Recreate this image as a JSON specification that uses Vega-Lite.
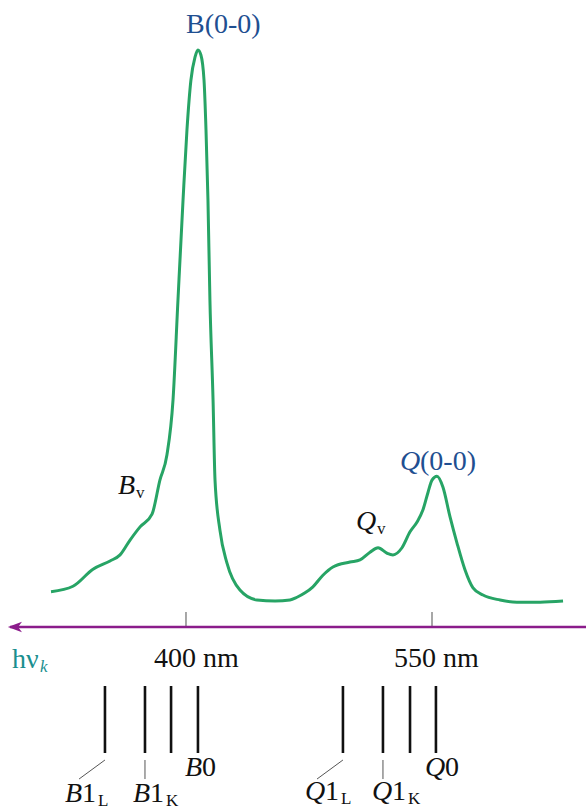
{
  "$schema": "https://vega.github.io/schema/vega-lite/v6.json",
  "width": 586,
  "height": 812,
  "autosize": {"type": "none"},
  "padding": 0,
  "background": "white",
  "config": {"view": {"stroke": null}},
  "datasets": {
    "curve": [
      {"nm": 317.7, "a": 0.015}, {"nm": 331.1, "a": 0.025}, {"nm": 343.3, "a": 0.056}, {"nm": 353.7, "a": 0.071},
      {"nm": 359.8, "a": 0.082}, {"nm": 365.9, "a": 0.109}, {"nm": 372.0, "a": 0.133}, {"nm": 379.3, "a": 0.156},
      {"nm": 384.1, "a": 0.218}, {"nm": 388.4, "a": 0.264}, {"nm": 392.1, "a": 0.364}, {"nm": 395.1, "a": 0.545},
      {"nm": 398.2, "a": 0.727}, {"nm": 400.6, "a": 0.855}, {"nm": 403.0, "a": 0.945}, {"nm": 405.5, "a": 0.987},
      {"nm": 407.3, "a": 1.0}, {"nm": 409.1, "a": 0.991}, {"nm": 411.0, "a": 0.945}, {"nm": 412.2, "a": 0.855},
      {"nm": 413.4, "a": 0.727}, {"nm": 414.6, "a": 0.545}, {"nm": 416.5, "a": 0.364}, {"nm": 417.7, "a": 0.218},
      {"nm": 420.7, "a": 0.127}, {"nm": 425.0, "a": 0.067}, {"nm": 432.9, "a": 0.018}, {"nm": 443.3, "a": 0.0},
      {"nm": 454.3, "a": -0.002}, {"nm": 463.4, "a": 0.0}, {"nm": 467.7, "a": 0.005}, {"nm": 472.6, "a": 0.013},
      {"nm": 477.4, "a": 0.024}, {"nm": 483.5, "a": 0.045}, {"nm": 489.6, "a": 0.06}, {"nm": 500.0, "a": 0.069},
      {"nm": 506.1, "a": 0.073}, {"nm": 512.2, "a": 0.087}, {"nm": 517.1, "a": 0.095}, {"nm": 522.6, "a": 0.085},
      {"nm": 526.2, "a": 0.082}, {"nm": 531.7, "a": 0.095}, {"nm": 536.6, "a": 0.124}, {"nm": 540.9, "a": 0.142},
      {"nm": 544.5, "a": 0.164}, {"nm": 547.6, "a": 0.196}, {"nm": 550.0, "a": 0.218}, {"nm": 553.0, "a": 0.225},
      {"nm": 556.7, "a": 0.205}, {"nm": 561.0, "a": 0.151}, {"nm": 565.2, "a": 0.104}, {"nm": 570.1, "a": 0.055},
      {"nm": 575.0, "a": 0.022}, {"nm": 581.1, "a": 0.009}, {"nm": 591.5, "a": 0.0}, {"nm": 601.8, "a": -0.004},
      {"nm": 615.9, "a": -0.004}, {"nm": 629.9, "a": -0.002}
    ],
    "transitions": [
      {"name": "B1L", "nm": 350.6}, {"name": "B1K", "nm": 375.0}, {"name": "B1x", "nm": 390.9}, {"name": "B0", "nm": 407.3},
      {"name": "Q1L", "nm": 495.7}, {"name": "Q1K", "nm": 520.1}, {"name": "Q1x", "nm": 536.6}, {"name": "Q0", "nm": 552.4}
    ],
    "leaders": [
      {"nm": 350.6, "a": -0.2909, "nm2": 334.8, "a2": -0.3255},
      {"nm": 375.0, "a": -0.2909, "nm2": 375.0, "a2": -0.3255},
      {"nm": 495.7, "a": -0.2909, "nm2": 479.9, "a2": -0.3255},
      {"nm": 520.1, "a": -0.2909, "nm2": 520.1, "a2": -0.3255}
    ],
    "ticks": [{"nm": 400}, {"nm": 550}],
    "labels": [
      {"t": "B", "nm": 326.2, "a": -0.3673, "s": "it", "fs": 28, "c": "#111111"},
      {"t": "1", "nm": 336.6, "a": -0.3673, "s": "rm", "fs": 28, "c": "#111111"},
      {"t": "L", "nm": 346.3, "a": -0.3745, "s": "rm", "fs": 17, "c": "#111111"},
      {"t": "B", "nm": 367.7, "a": -0.3673, "s": "it", "fs": 28, "c": "#111111"},
      {"t": "1", "nm": 378.0, "a": -0.3673, "s": "rm", "fs": 28, "c": "#111111"},
      {"t": "K", "nm": 387.8, "a": -0.3745, "s": "rm", "fs": 17, "c": "#111111"},
      {"t": "B", "nm": 399.4, "a": -0.32, "s": "it", "fs": 28, "c": "#111111"},
      {"t": "0", "nm": 409.8, "a": -0.32, "s": "rm", "fs": 28, "c": "#111111"},
      {"t": "Q", "nm": 472.6, "a": -0.3636, "s": "it", "fs": 28, "c": "#111111"},
      {"t": "1", "nm": 484.8, "a": -0.3636, "s": "rm", "fs": 28, "c": "#111111"},
      {"t": "L", "nm": 494.5, "a": -0.3709, "s": "rm", "fs": 17, "c": "#111111"},
      {"t": "Q", "nm": 513.4, "a": -0.3636, "s": "it", "fs": 28, "c": "#111111"},
      {"t": "1", "nm": 525.6, "a": -0.3636, "s": "rm", "fs": 28, "c": "#111111"},
      {"t": "K", "nm": 535.4, "a": -0.3709, "s": "rm", "fs": 17, "c": "#111111"},
      {"t": "Q", "nm": 545.7, "a": -0.32, "s": "it", "fs": 28, "c": "#111111"},
      {"t": "0", "nm": 557.9, "a": -0.32, "s": "rm", "fs": 28, "c": "#111111"},
      {"t": "B", "nm": 358.5, "a": 0.1927, "s": "it", "fs": 28, "c": "#111111"},
      {"t": "v", "nm": 369.5, "a": 0.1855, "s": "rm", "fs": 17, "c": "#111111"},
      {"t": "Q", "nm": 503.7, "a": 0.1273, "s": "it", "fs": 28, "c": "#111111"},
      {"t": "v", "nm": 516.5, "a": 0.12, "s": "rm", "fs": 17, "c": "#111111"},
      {"t": "B(0-0)", "nm": 400.0, "a": 1.0309, "s": "rm", "fs": 28, "c": "#1f4f91"},
      {"t": "Q", "nm": 530.5, "a": 0.2364, "s": "it", "fs": 28, "c": "#1f4f91"},
      {"t": "(0-0)", "nm": 542.7, "a": 0.2364, "s": "rm", "fs": 28, "c": "#1f4f91"},
      {"t": "hν", "nm": 293.9, "a": -0.1236, "s": "rm", "fs": 28, "c": "#1a8f8f"},
      {"t": "k", "nm": 311.0, "a": -0.1309, "s": "it", "fs": 17, "c": "#1a8f8f"},
      {"t": "400 nm", "nm": 380.5, "a": -0.1218, "s": "rm", "fs": 28, "c": "#111111"},
      {"t": "550 nm", "nm": 526.8, "a": -0.1218, "s": "rm", "fs": 28, "c": "#111111"}
    ],
    "axisline": [{"nm": 292.7, "nm2": 643.9, "a": -0.0491}],
    "arrowhead": [{"nm": 295.7, "a": -0.0491}]
  },
  "encoding": {
    "x": {"type": "quantitative", "scale": {"domain": [286.6, 643.9], "nice": false, "zero": false}, "axis": null},
    "y": {"type": "quantitative", "scale": {"domain": [-0.38545, 1.09091], "nice": false, "zero": false}, "axis": null}
  },
  "layer": [
    {
      "data": {"name": "curve"},
      "mark": {"type": "line", "interpolate": "monotone", "color": "#27a465", "strokeWidth": 3},
      "encoding": {"x": {"field": "nm", "type": "quantitative"}, "y": {"field": "a", "type": "quantitative"}}
    },
    {
      "data": {"name": "ticks"},
      "mark": {"type": "rule", "color": "#8a8a8a", "strokeWidth": 1.5},
      "encoding": {
        "x": {"field": "nm", "type": "quantitative"},
        "y": {"datum": -0.0218, "type": "quantitative"},
        "y2": {"datum": -0.0491}
      }
    },
    {
      "data": {"name": "axisline"},
      "mark": {"type": "rule", "color": "#8b1c8b", "strokeWidth": 2.5},
      "encoding": {
        "x": {"field": "nm", "type": "quantitative"},
        "x2": {"field": "nm2"},
        "y": {"field": "a", "type": "quantitative"}
      }
    },
    {
      "data": {"name": "arrowhead"},
      "mark": {"type": "point", "shape": "M-1,0L1,-0.75L0.45,0L1,0.75Z", "filled": true, "color": "#8b1c8b", "size": 200, "opacity": 1},
      "encoding": {"x": {"field": "nm", "type": "quantitative"}, "y": {"field": "a", "type": "quantitative"}}
    },
    {
      "data": {"name": "transitions"},
      "mark": {"type": "rule", "color": "#111111", "strokeWidth": 2.6},
      "encoding": {
        "x": {"field": "nm", "type": "quantitative"},
        "y": {"datum": -0.1564, "type": "quantitative"},
        "y2": {"datum": -0.2782}
      }
    },
    {
      "data": {"name": "leaders"},
      "mark": {"type": "rule", "color": "#555555", "strokeWidth": 1},
      "encoding": {
        "x": {"field": "nm", "type": "quantitative"},
        "y": {"field": "a", "type": "quantitative"},
        "x2": {"field": "nm2"},
        "y2": {"field": "a2"}
      }
    },
    {
      "data": {"name": "labels"},
      "transform": [{"filter": "datum.s == 'rm'"}],
      "mark": {"type": "text", "font": "Liberation Serif", "align": "left", "baseline": "alphabetic"},
      "encoding": {
        "x": {"field": "nm", "type": "quantitative"},
        "y": {"field": "a", "type": "quantitative"},
        "text": {"field": "t"},
        "size": {"field": "fs", "type": "quantitative", "scale": null},
        "color": {"field": "c", "type": "nominal", "scale": null}
      }
    },
    {
      "data": {"name": "labels"},
      "transform": [{"filter": "datum.s == 'it'"}],
      "mark": {"type": "text", "font": "Liberation Serif", "fontStyle": "italic", "align": "left", "baseline": "alphabetic"},
      "encoding": {
        "x": {"field": "nm", "type": "quantitative"},
        "y": {"field": "a", "type": "quantitative"},
        "text": {"field": "t"},
        "size": {"field": "fs", "type": "quantitative", "scale": null},
        "color": {"field": "c", "type": "nominal", "scale": null}
      }
    }
  ]
}
